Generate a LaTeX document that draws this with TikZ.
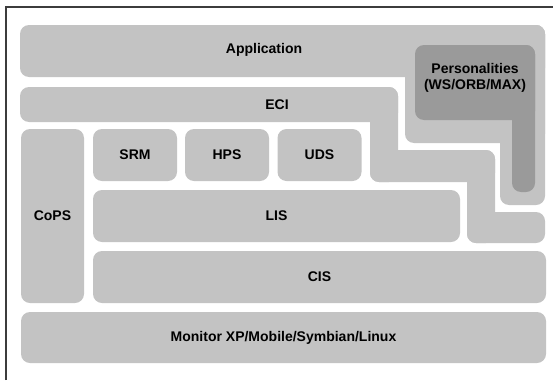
\documentclass[tikz,border=0pt]{standalone}
\usepackage{fontspec}
\setmainfont{Liberation Sans}
\usetikzlibrary{positioning}
\definecolor{lygray}{RGB}{195,195,195}
\definecolor{lydark}{RGB}{154,154,154}
\definecolor{lyline}{RGB}{60,60,60}
\tikzset{
  layer/.style={fill=lygray, rounded corners=9pt, inner sep=0pt,
                font=\fontsize{14}{16.5}\selectfont\bfseries, text=black, align=center},
  persona/.style={fill=lydark, rounded corners=9pt},
  tag/.style={font=\fontsize{14}{16.5}\selectfont\bfseries, text=black, align=center, inner sep=0pt},
  frame/.style={draw=lyline, line width=1.3pt},
}

\begin{document}
\begin{tikzpicture}[x=1pt, y=-1pt]
% page is 553 x 380, y runs downward
\useasboundingbox (0,0) rectangle (553,380);
\draw[frame] (6,380) |- (553,7);

% Application: top bar with a stepped column on the right
\fill[layer] (20,25) rectangle (545,77);
\fill[layer] (405,25) rectangle (545,143);
\fill[layer] (500,25) rectangle (545,205);
\node[tag] (app) at (264,50) {Application};

% Personalities sit inside the column
\fill[persona] (415,45) rectangle (535,120);
\fill[persona] (512,45) rectangle (535,192);
\node[tag] (pers) at (475,78) {Personalities\\(WS/ORB/MAX)};

% ECI: bar that stairs down to the right
\fill[layer] (20,87) rectangle (398,122);
\fill[layer] (370,87) rectangle (398,182);
\fill[layer] (370,150) rectangle (495,182);
\fill[layer] (467,150) rectangle (495,243);
\fill[layer] (467,212) rectangle (545,243);
\node[tag] (eci) at (277,105) {ECI};

% CoPS down the left side
\node[layer, minimum width=63, minimum height=174] (cops) at (52.5,216) {CoPS};

% services row
\foreach \cx/\nm in {135/SRM, 227/HPS, 319.5/UDS}
  \node[layer, minimum width=84, minimum height=52] (\nm) at (\cx,155) {\nm};

% lower layers
\node[layer, minimum width=367, minimum height=52] (lis) at (276.5,216) {LIS};
\node[layer, minimum width=453, minimum height=52] (cis) at (319.5,277) {CIS};
\node[layer, minimum width=525, minimum height=51] (mon) at (283.5,337.5)
  {Monitor XP/Mobile/Symbian/Linux};
\end{tikzpicture}
\end{document}
